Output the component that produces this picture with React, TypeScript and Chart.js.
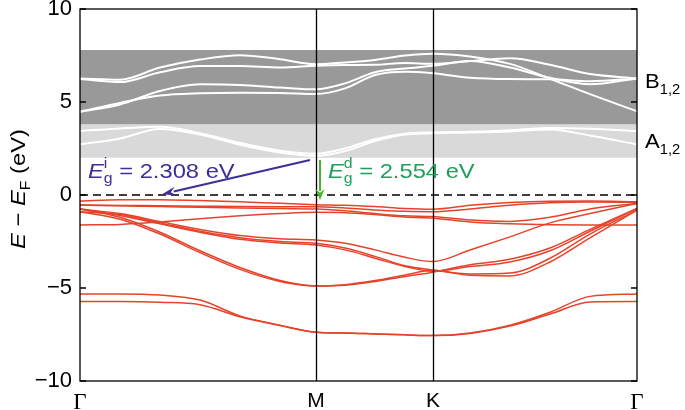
import React, { useEffect, useRef } from "react";
import { Chart, registerables } from "chart.js";

Chart.register(...registerables);

// ---- k-path (Γ–M–K–Γ), sample positions along the path ----
const K_PATH = [0, 40, 80, 120, 160, 200, 236, 265, 295, 325, 353, 390, 430, 470, 510, 557];
const K_TICK_POS = [0, 236, 353, 557];
const K_TICK_LABELS = ["Γ", "M", "K", "Γ"];
const E_TICKS = [-10, -5, 0, 5, 10];

// ---- shaded energy windows ----
const BAND_A_RANGE = [2.0, 3.8];
const BAND_B_RANGE = [3.8, 7.8];
const BAND_LABEL_E = [6.2, 2.95];

// ---- conduction bands (white) ----
const CB_1 = [6.27, 6.2, 6.85, 7.28, 7.52, 7.3, 7.03, 7.13, 7.26, 7.5, 7.6, 7.45, 7.05, 6.25, 5.42, 4.5];
const CB_2 = [6.23, 6.07, 6.6, 6.93, 6.93, 6.85, 6.95, 6.99, 7.0, 7.1, 7.05, 7.2, 7.35, 7.0, 6.5, 6.27];
const CB_3 = [4.48, 4.87, 5.59, 5.95, 5.92, 5.78, 5.68, 6.0, 6.6, 6.8, 6.95, 7.2, 6.85, 6.3, 5.95, 6.27];
const CB_4 = [4.48, 4.95, 5.35, 5.47, 5.5, 5.49, 5.43, 5.73, 6.45, 6.63, 6.55, 6.3, 6.23, 6.22, 6.12, 6.27];
const CB_5 = [3.44, 3.58, 3.67, 3.32, 2.8, 2.38, 2.22, 2.5, 3.0, 3.3, 3.37, 3.4, 3.48, 3.6, 3.56, 3.44];
const CB_6 = [2.72, 3.04, 3.55, 3.25, 2.7, 2.28, 2.1, 2.36, 2.9, 3.25, 3.32, 3.36, 3.42, 3.52, 3.2, 2.72];

// ---- valence bands (red) ----
const VB_1 = [-0.32, -0.25, -0.25, -0.3, -0.36, -0.45, -0.52, -0.55, -0.62, -0.72, -0.76, -0.55, -0.4, -0.33, -0.32, -0.36];
const VB_2 = [-0.54, -0.56, -0.58, -0.6, -0.62, -0.63, -0.63, -0.7, -0.8, -0.88, -0.9, -0.75, -0.55, -0.42, -0.38, -0.4];
const VB_3 = [-0.54, -0.58, -0.62, -0.66, -0.7, -0.73, -0.75, -0.85, -1.0, -1.12, -1.16, -1.35, -1.42, -1.2, -0.75, -0.45];
const VB_4 = [-1.61, -1.58, -1.45, -1.28, -1.12, -1.0, -0.93, -0.95, -1.05, -1.18, -1.25, -1.45, -1.55, -1.6, -1.61, -1.61];
const VB_5 = [-0.75, -1.0, -1.43, -1.85, -2.18, -2.35, -2.42, -2.6, -2.95, -3.35, -3.58, -2.96, -2.25, -1.5, -1.0, -0.45];
const VB_6 = [-0.9, -1.05, -1.5, -1.95, -2.3, -2.5, -2.6, -2.85, -3.3, -3.8, -4.03, -4.25, -4.2, -3.4, -2.1, -0.81];
const VB_7 = [-0.75, -1.1, -1.55, -2.0, -2.38, -2.58, -2.69, -2.95, -3.4, -3.85, -4.1, -3.85, -3.6, -3.0, -1.95, -0.72];
const VB_8 = [-0.75, -1.2, -2.0, -3.0, -3.9, -4.6, -4.89, -4.82, -4.6, -4.3, -4.05, -4.32, -4.35, -3.6, -2.3, -0.81];
const VB_9 = [-0.9, -1.3, -2.1, -3.1, -4.0, -4.65, -4.89, -4.85, -4.65, -4.38, -4.15, -3.75, -3.45, -2.85, -1.85, -0.72];
const VB_10 = [-5.32, -5.32, -5.38, -5.65, -6.5, -7.0, -7.38, -7.42, -7.47, -7.52, -7.56, -7.42, -7.0, -6.3, -5.45, -5.32];
const VB_11 = [-5.73, -5.73, -5.77, -5.9, -6.55, -7.02, -7.38, -7.42, -7.47, -7.52, -7.56, -7.44, -7.05, -6.4, -5.75, -5.73];

const CONDUCTION = [CB_1, CB_2, CB_3, CB_4, CB_5, CB_6];
const VALENCE = [VB_1, VB_2, VB_3, VB_4, VB_5, VB_6, VB_7, VB_8, VB_9, VB_10, VB_11];

// ---- gap arrows: [k, E] ----
const INDIRECT_FROM = [230, 1.88];
const INDIRECT_TO = [82, 0.04];
const DIRECT_FROM = [240, 1.88];
const DIRECT_TO = [240, -0.27];
const INDIRECT_GAP = "2.308";
const DIRECT_GAP = "2.554";

const SANS = "'Liberation Sans', Arial, Helvetica, sans-serif";
const SERIF = "'Liberation Serif', 'Times New Roman', serif";
const RED = "#e6432b";
const BLUE = "#3b2f98";
const GREEN_ARROW = "#4cb52d";
const GREEN_TEXT = "#1f9f5c";
const TEXT_SX = 1.13;

type Part = { text: string; font: string; dy?: number; noAdvance?: boolean };

function partsWidth(ctx: CanvasRenderingContext2D, parts: Part[]) {
  let w = 0;
  let pending = 0;
  for (const p of parts) {
    ctx.font = p.font;
    const pw = ctx.measureText(p.text).width;
    if (p.noAdvance) pending = Math.max(pending, pw);
    else {
      w += Math.max(pw, pending);
      pending = 0;
    }
  }
  return w + pending;
}

function drawParts(ctx: CanvasRenderingContext2D, parts: Part[], x: number, y: number, sx = 1) {
  ctx.save();
  ctx.translate(x, y);
  ctx.scale(sx, 1);
  let cur = 0;
  let pending = 0;
  for (const p of parts) {
    ctx.font = p.font;
    const pw = ctx.measureText(p.text).width;
    ctx.fillText(p.text, cur, p.dy || 0);
    if (p.noAdvance) pending = Math.max(pending, pw);
    else {
      cur += Math.max(pw, pending);
      pending = 0;
    }
  }
  ctx.restore();
}

function arrow(ctx: CanvasRenderingContext2D, x1: number, y1: number, x2: number, y2: number, color: string, len: number, half: number) {
  const ang = Math.atan2(y2 - y1, x2 - x1);
  const bx = x2 - len * Math.cos(ang);
  const by = y2 - len * Math.sin(ang);
  ctx.strokeStyle = color;
  ctx.fillStyle = color;
  ctx.lineWidth = 2;
  ctx.beginPath();
  ctx.moveTo(x1, y1);
  ctx.lineTo(bx + 2 * Math.cos(ang), by + 2 * Math.sin(ang));
  ctx.stroke();
  ctx.beginPath();
  ctx.moveTo(x2, y2);
  ctx.lineTo(bx + half * Math.sin(ang), by - half * Math.cos(ang));
  ctx.lineTo(bx + 0.35 * len * Math.cos(ang), by + 0.35 * len * Math.sin(ang));
  ctx.lineTo(bx - half * Math.sin(ang), by + half * Math.cos(ang));
  ctx.closePath();
  ctx.fill();
}

const decor = {
  id: "decor",
  afterDatasetsDraw(chart: any) {
    const { ctx, chartArea: a, scales } = chart;
    const x = scales.x;
    const y = scales.y;
    ctx.save();
    ctx.strokeStyle = "#000";
    ctx.lineWidth = 1.3;
    K_TICK_POS.slice(1, -1).forEach((k) => {
      const px = Math.round(x.getPixelForValue(k)) + 0.5;
      ctx.beginPath();
      ctx.moveTo(px, a.top);
      ctx.lineTo(px, a.bottom);
      ctx.stroke();
    });
    ctx.strokeRect(a.left, a.top, a.right - a.left, a.bottom - a.top);
    E_TICKS.forEach((e) => {
      const py = y.getPixelForValue(e);
      ctx.beginPath();
      ctx.moveTo(a.left, py);
      ctx.lineTo(a.left + 6, py);
      ctx.moveTo(a.right, py);
      ctx.lineTo(a.right - 6, py);
      ctx.stroke();
    });

    // arrows
    arrow(ctx, x.getPixelForValue(INDIRECT_FROM[0]), y.getPixelForValue(INDIRECT_FROM[1]),
      x.getPixelForValue(INDIRECT_TO[0]), y.getPixelForValue(INDIRECT_TO[1]), BLUE, 14, 4.5);
    arrow(ctx, x.getPixelForValue(DIRECT_FROM[0]), y.getPixelForValue(DIRECT_FROM[1]),
      x.getPixelForValue(DIRECT_TO[0]), y.getPixelForValue(DIRECT_TO[1]), GREEN_ARROW, 11, 4.5);

    // gap labels
    ctx.textBaseline = "alphabetic";
    ctx.textAlign = "left";
    const big = `21px ${SANS}`;
    const bigI = `italic 21px ${SANS}`;
    const small = `14px ${SANS}`;
    ctx.fillStyle = BLUE;
    drawParts(ctx, [
      { text: "E", font: bigI },
      { text: "i", font: small, dy: -10, noAdvance: true },
      { text: "g", font: small, dy: 5 },
      { text: " = " + INDIRECT_GAP + " eV", font: big },
    ], a.left + 8, 178, TEXT_SX);
    ctx.fillStyle = GREEN_TEXT;
    drawParts(ctx, [
      { text: "E", font: bigI },
      { text: "d", font: small, dy: -10, noAdvance: true },
      { text: "g", font: small, dy: 5 },
      { text: " = " + DIRECT_GAP + " eV", font: big },
    ], x.getPixelForValue(DIRECT_FROM[0]) + 8, 178, TEXT_SX);

    // band labels at right
    ctx.fillStyle = "#000";
    const labels = ["B", "A"];
    labels.forEach((t, i) => {
      const py = y.getPixelForValue(BAND_LABEL_E[i]) + 8;
      drawParts(ctx, [
        { text: t, font: big },
        { text: "1,2", font: small, dy: 6 },
      ], a.right + 8, py, 1.05);
    });

    // y axis title
    const title: Part[] = [
      { text: "E", font: bigI },
      { text: " \u2212 ", font: big },
      { text: "E", font: bigI },
      { text: "F", font: small, dy: 5 },
      { text: " (eV)", font: big },
    ];
    const tw = partsWidth(ctx, title) * TEXT_SX;
    ctx.translate(25, (a.top + a.bottom) / 2 - 6);
    ctx.rotate(-Math.PI / 2);
    drawParts(ctx, title, -tw / 2, 0, TEXT_SX);
    ctx.restore();
  },
};

export default function App() {
  const ref = useRef<HTMLCanvasElement | null>(null);
  useEffect(() => {
    document.body.style.margin = "0";
    const canvas = ref.current;
    if (!canvas) return;
    Chart.defaults.font.family = SANS;

    const pts = (vals: number[]) => K_PATH.map((k, i) => ({ x: k, y: vals[i] }));
    const kMin = K_PATH[0];
    const kMax = K_PATH[K_PATH.length - 1];
    // higher "order" is drawn first (underneath)
    const rangeFill = (range: number[], color: string) => ({
      data: [{ x: kMin, y: range[1] }, { x: kMax, y: range[1] }],
      borderWidth: 0,
      borderColor: "rgba(0,0,0,0)",
      backgroundColor: color,
      pointRadius: 0,
      fill: { value: range[0] },
      order: 4,
    });
    const bandLine = (vals: number[], color: string, width: number, order: number) => ({
      data: pts(vals),
      borderColor: color,
      borderWidth: width,
      pointRadius: 0,
      fill: false,
      cubicInterpolationMode: "monotone" as const,
      order,
    });

    const datasets: any[] = [
      rangeFill(BAND_B_RANGE, "#999999"),
      rangeFill(BAND_A_RANGE, "#d9d9d9"),
      ...CONDUCTION.map((b) => bandLine(b, "#ffffff", 2, 2)),
      {
        data: [{ x: kMin, y: 0 }, { x: kMax, y: 0 }],
        borderColor: "#000",
        borderWidth: 1.6,
        borderDash: [8, 5],
        pointRadius: 0,
        fill: false,
        order: 1,
      },
      ...VALENCE.map((b) => bandLine(b, RED, 1.5, 0)),
    ];

    const chart = new Chart(canvas, {
      type: "line",
      data: { datasets },
      options: {
        animation: false,
        responsive: false,
        events: [],
        layout: { padding: { top: 9, right: 48, left: 0, bottom: 0 } },
        plugins: { legend: { display: false }, tooltip: { enabled: false } },
        scales: {
          x: {
            type: "linear",
            min: kMin,
            max: kMax,
            afterBuildTicks: (s: any) => {
              s.ticks = K_TICK_POS.map((v) => ({ value: v }));
            },
            afterFit: (s: any) => {
              s.height = 29;
              s.paddingLeft = 0;
              s.paddingRight = 0;
            },
            grid: { display: false, drawTicks: false },
            border: { display: false },
            ticks: {
              autoSkip: false,
              maxRotation: 0,
              padding: 8,
              color: "#000",
              callback: (_v: any, i: number) => K_TICK_LABELS[i],
              font: (c: any) =>
                K_TICK_LABELS[c.index] === "Γ"
                  ? { family: SERIF, size: 23 }
                  : { family: SANS, size: 21 },
            },
          },
          y: {
            type: "linear",
            min: -10,
            max: 10,
            afterBuildTicks: (s: any) => {
              s.ticks = E_TICKS.map((v) => ({ value: v }));
            },
            afterFit: (s: any) => {
              s.width = 80;
              s.paddingTop = 0;
              s.paddingBottom = 0;
            },
            grid: { display: false, drawTicks: false },
            border: { display: false },
            ticks: {
              padding: 8,
              color: "#000",
              font: { family: SANS, size: 22 },
              callback: (v: any) => (Number(v) < 0 ? "\u2212" + Math.abs(Number(v)) : String(v)),
            },
          },
        },
      },
      plugins: [decor],
    } as any);
    return () => chart.destroy();
  }, []);

  return (
    <div style={{ width: 685, height: 410, position: "relative", background: "#fff" }}>
      <canvas ref={ref} width={685} height={410} style={{ display: "block" }} />
    </div>
  );
}
